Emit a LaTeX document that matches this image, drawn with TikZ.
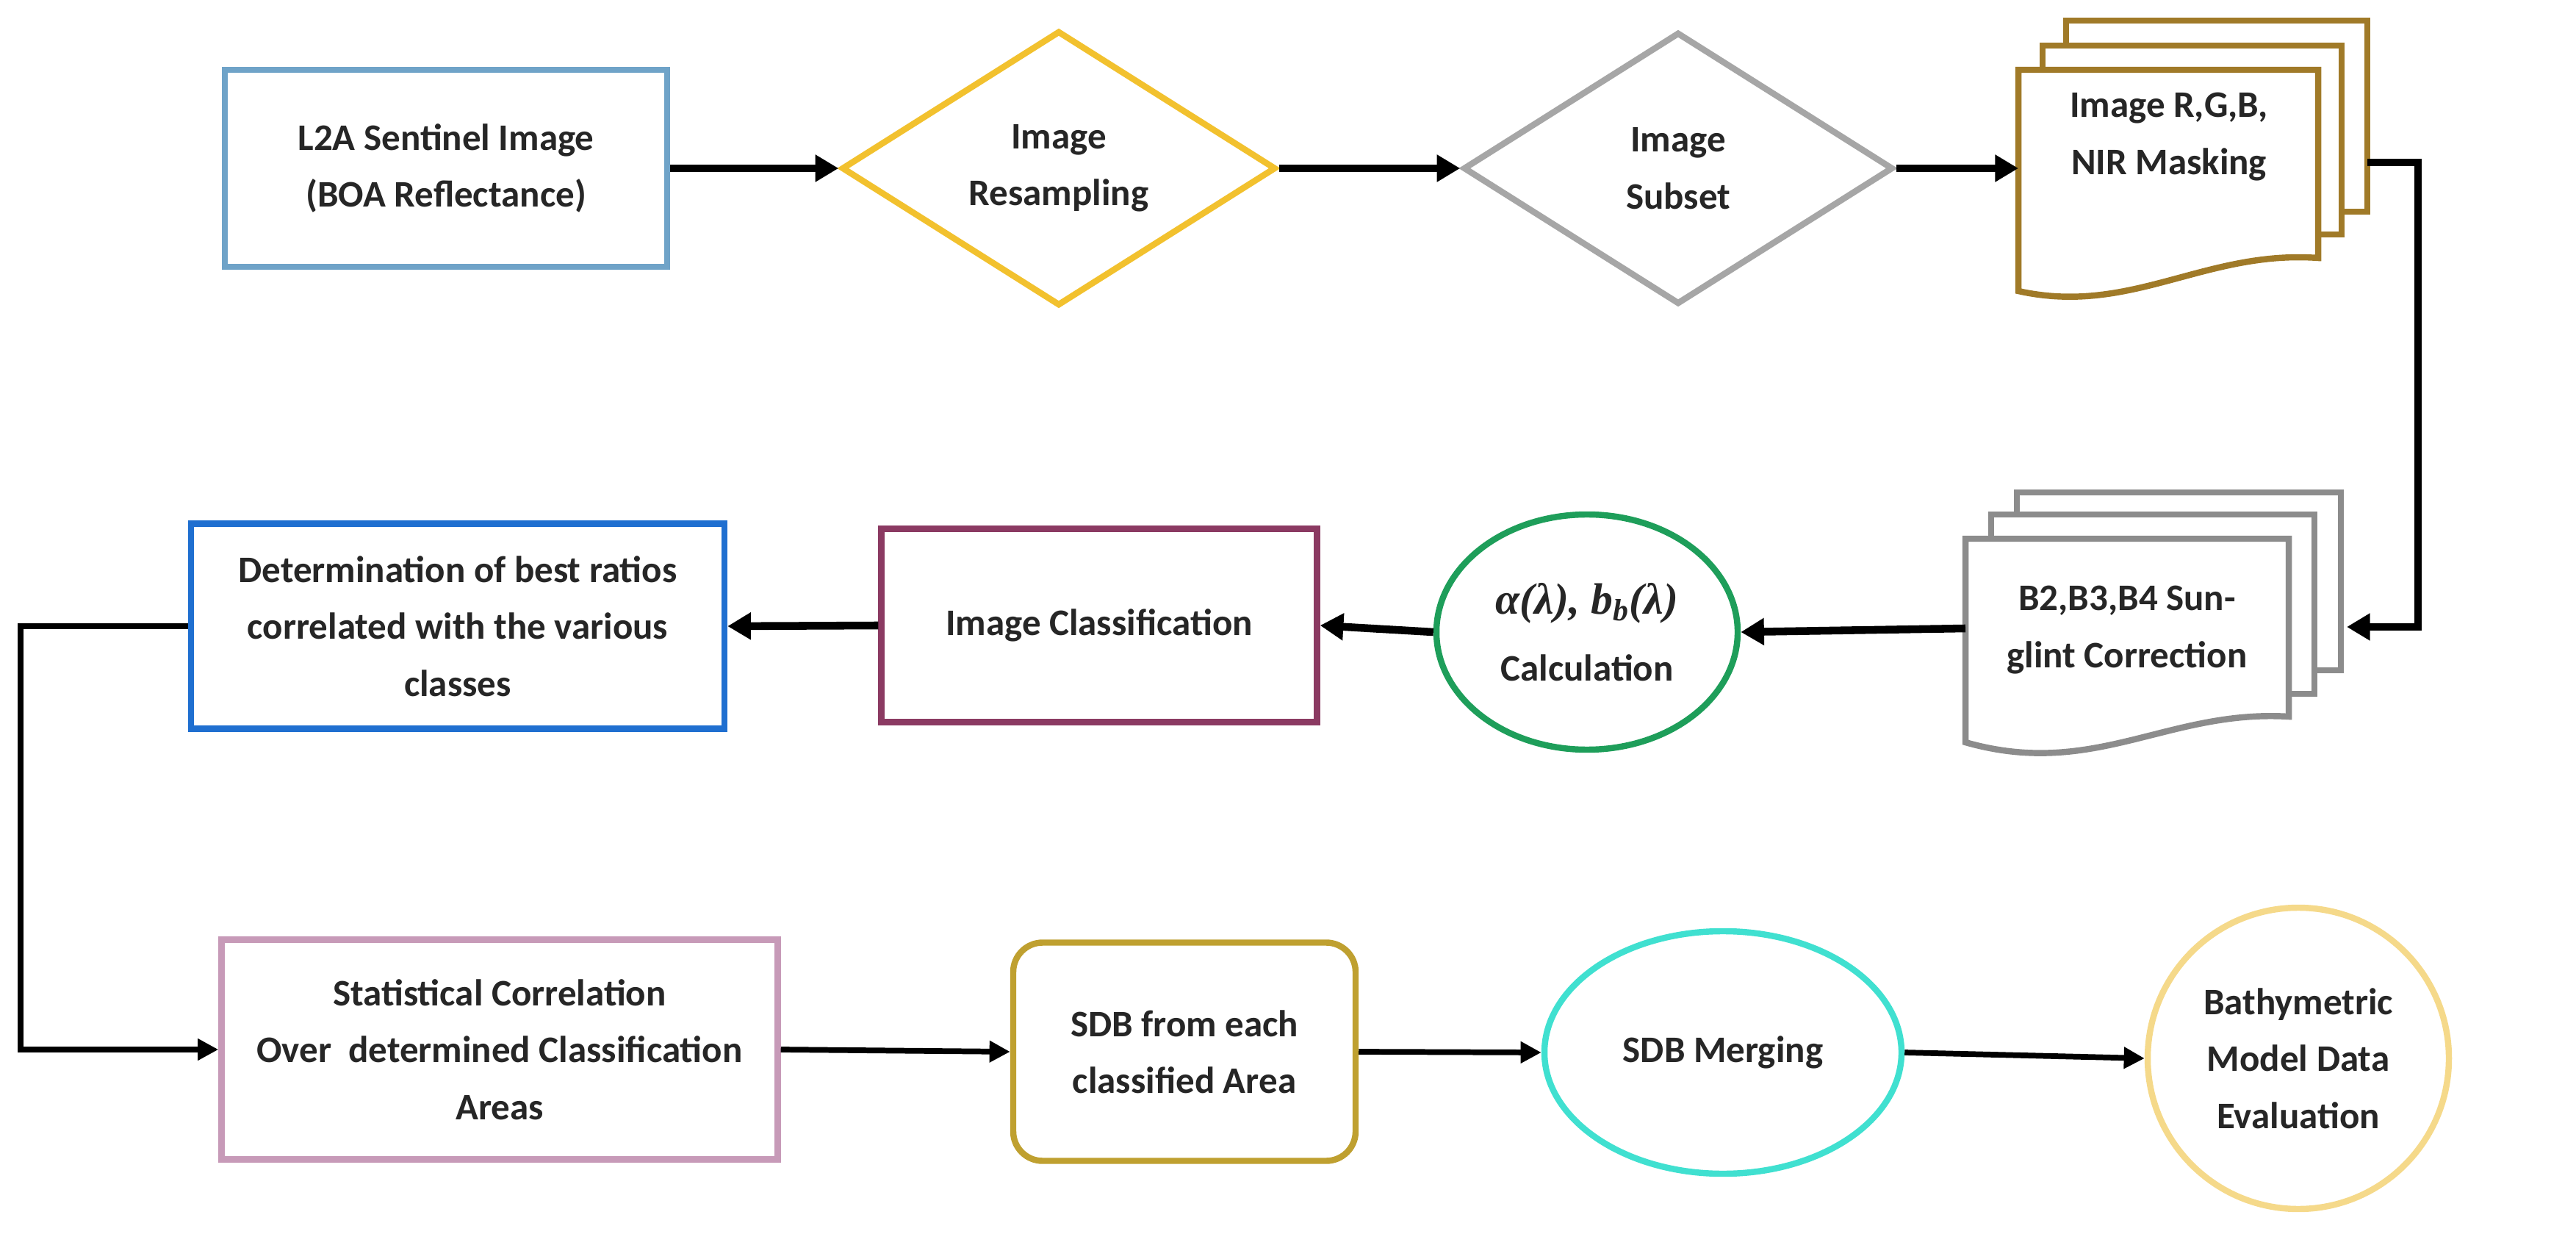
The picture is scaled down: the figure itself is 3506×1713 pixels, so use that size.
\documentclass[tikz,border=0pt]{standalone}
\usepackage{fontspec}
\setmainfont{Carlito}
\usetikzlibrary{shapes.geometric,arrows.meta}
\definecolor{cL}{HTML}{6FA3C8}
\definecolor{cD1}{HTML}{F2C12E}
\definecolor{cD2}{HTML}{A6A6A6}
\definecolor{cRGB}{HTML}{A07A28}
\definecolor{cB}{HTML}{8C8C8C}
\definecolor{cG}{HTML}{1E9E5A}
\definecolor{cIC}{HTML}{8B3A62}
\definecolor{cDet}{HTML}{1F6FD0}
\definecolor{cSt}{HTML}{C79AB8}
\definecolor{cSDB}{HTML}{BFA030}
\definecolor{cM}{HTML}{40E0D0}
\definecolor{cBa}{HTML}{F5D98A}
\begin{document}
\begin{tikzpicture}[x=0.01cm,y=-0.01cm,
  txt/.style={font=\fontsize{14.5}{22}\selectfont\bfseries,align=center,text=black!85},
  box/.style={txt,draw,line width=2.4pt,inner sep=0pt},
  arr/.style={line width=3pt,-{Triangle[length=9pt,width=10pt]}},
  thin arr/.style={line width=2.2pt,-{Triangle[length=8pt,width=8pt]}}]
\useasboundingbox (0,0) rectangle (3506,1713);
% row 1
\node[box,draw=cL,minimum width=602*0.01cm,minimum height=268*0.01cm] (l2a) at (607,229) {L2A Sentinel Image\\(BOA Reflectance)};
\node[box,draw=cD1,diamond,minimum width=591*0.01cm,minimum height=374*0.01cm] (res) at (1441,229) {Image\\Resampling};
\node[box,draw=cD2,diamond,minimum width=585*0.01cm,minimum height=370*0.01cm] (sub) at (2284,229) {Image\\Subset};
% RGB multi-document
\begin{scope}[draw=cRGB,line width=2.4pt,fill=white]
\filldraw (2812,28) rectangle (3222,288);
\filldraw (2780,62) rectangle (3187,319);
\filldraw (2747,95) -- (3155,95) -- (3155,351) .. controls (3000,340) and (2900,430) .. (2747,396) -- cycle;
\end{scope}
\node[txt] (rgb) at (2952,186) {Image R,G,B,\\NIR Masking};
\coordinate (rgbin) at (2747,229);
\coordinate (rgbout) at (3222,221);
% B2 multi-document
\begin{scope}[draw=cB,line width=2.4pt,fill=white]
\filldraw (2745,670) rectangle (3186,912);
\filldraw (2710,700) rectangle (3150,944);
\filldraw (2675,733) -- (3115,733) -- (3115,975) .. controls (2950,965) and (2850,1060) .. (2675,1010) -- cycle;
\end{scope}
\node[txt] (b2) at (2895,857) {B2,B3,B4 Sun-\\glint Correction};
\coordinate (b2in) at (3194,853);
\coordinate (b2out) at (2675,855);
\coordinate (c1) at (3291,221);
\coordinate (c2) at (3291,853);
% row 2
\node[box,draw=cG,ellipse,minimum width=410*0.01cm,minimum height=320*0.01cm] (alpha) at (2160,860) {{\fontspec{Liberation Serif}\bfseries\itshape\fontsize{17}{22}\selectfont α(λ), b\textsubscript{b}(λ)}\\[4pt]Calculation};
\node[box,draw=cIC,minimum width=593*0.01cm,minimum height=263*0.01cm] (ic) at (1496,851) {Image Classification};
\node[box,draw=cDet,draw=cDet,minimum width=726*0.01cm,minimum height=279*0.01cm] (det) at (623,852) {Determination of best ratios\\correlated with the various\\classes};
% row 3
\node[box,draw=cSt,minimum width=757*0.01cm,minimum height=299*0.01cm] (st) at (680,1428) {Statistical Correlation\\Over\ \ determined Classification\\Areas};
\node[box,draw=cSDB,rounded corners=40*0.01cm,minimum width=466*0.01cm,minimum height=297*0.01cm] (sdb) at (1612,1431) {SDB from each\\classified Area};
\node[box,draw=cM,ellipse,minimum width=486*0.01cm,minimum height=330*0.01cm] (mer) at (2345,1432) {SDB Merging};
\node[box,draw=cBa,ellipse,minimum width=410*0.01cm,minimum height=410*0.01cm] (bat) at (3128,1440) {Bathymetric\\Model Data\\Evaluation};
% connectors
\draw[arr] (l2a.east) -- (res.west);
\draw[arr] (res.east) -- (sub.west);
\draw[arr] (sub.east) -- (rgbin);
\draw[arr] (rgbout) -- (c1) -- (c2) -- (b2in);
\draw[arr] (b2out) -- (alpha.east);
\draw[arr] (alpha.west) -- (ic.east);
\draw[arr] (ic.west) -- (det.east);
\coordinate (d1) at (28,852);
\coordinate (d2) at (28,1428);
\draw[thin arr] (det.west) -- (d1) -- (d2) -- (st.west);
\draw[thin arr] (st.east) -- (sdb.west);
\draw[thin arr] (sdb.east) -- (mer.west);
\draw[thin arr] (mer.east) -- (bat.west);
\end{tikzpicture}
\end{document}
